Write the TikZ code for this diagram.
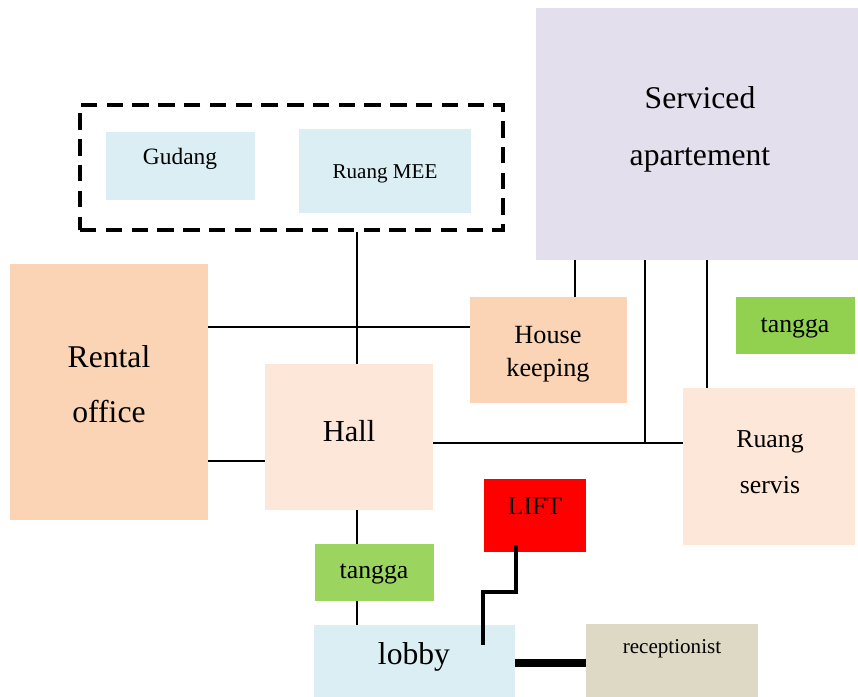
\documentclass[tikz,border=0pt]{standalone}
\usepackage{fontspec}
\setmainfont{Liberation Serif}
\definecolor{lavender}{HTML}{E4DFEC}
\definecolor{paleblue}{HTML}{DAEEF3}
\definecolor{peach}{HTML}{FAD4B4}
\definecolor{lightpeach}{HTML}{FCE7D8}
\definecolor{stairgreen}{HTML}{92D050}
\definecolor{tan}{HTML}{DDD9C4}
\begin{document}
\begin{tikzpicture}[x=0.03cm,y=-0.03cm,
	room/.style 2 args={rectangle,inner sep=0pt,minimum width=#1*0.03cm,minimum height=#2*0.03cm},
	label/.style={inner sep=0pt,align=center},
	link/.style={line width=1.4pt}]
	\useasboundingbox (0,0) rectangle (858,697);
	% rooms
	\node[room={322}{252},fill=lavender] (apt) at (697,134) {};
	\node[room={423}{125},draw,line width=3pt,dash pattern=on 14pt off 8pt] (group) at (291.5,167.5) {};
	\node[room={149}{68},fill=paleblue] (gudang) at (180.5,166) {};
	\node[room={172}{84},fill=paleblue] (mee) at (385,171) {};
	\node[room={198}{256},fill=peach] (rental) at (109,392) {};
	\node[room={157}{106},fill=peach] (house) at (548.5,350) {};
	\node[room={119}{57},fill=stairgreen] (stairR) at (795.5,325.5) {};
	\node[room={168}{146},fill=lightpeach] (hall) at (349,437) {};
	\node[room={172}{157},fill=lightpeach] (servis) at (769,466.5) {};
	\node[room={102}{73},fill=red] (lift) at (535,515.5) {};
	\node[room={119}{57},fill=stairgreen!92!white] (stairB) at (374.5,572.5) {};
	\node[room={201}{72},fill=paleblue] (lobby) at (414.5,661) {};
	\node[room={172}{73},fill=tan] (recep) at (672,660.5) {};
	% names
	\node[label,font=\fontsize{27}{48.6}\selectfont] (aptT) at (700,129) {Serviced\\apartement};
	\node[label,font=\fontsize{20}{24}\selectfont] (gudangT) at (180,159) {Gudang};
	\node[label,font=\fontsize{18}{22}\selectfont] (meeT) at (385,174) {Ruang MEE};
	\node[label,font=\fontsize{27}{47}\selectfont] (rentalT) at (109,384) {Rental\\office};
	\node[label,font=\fontsize{22.4}{28}\selectfont] (houseT) at (548,354) {House\\keeping};
	\node[label,font=\fontsize{22}{26}\selectfont] (stairRT) at (795,328) {tangga};
	\node[label,font=\fontsize{26}{30}\selectfont] (hallT) at (349,431) {Hall};
	\node[label,font=\fontsize{22}{39}\selectfont] (servisT) at (770,462) {Ruang\\servis};
	\node[label,font=\fontsize{22}{26}\selectfont] (liftT) at (535,506) {LIFT};
	\node[label,font=\fontsize{22}{26}\selectfont] (stairBT) at (374,574) {tangga};
	\node[label,font=\fontsize{27}{32}\selectfont] (lobbyT) at (414,657) {lobby};
	\node[label,font=\fontsize{18}{22}\selectfont] (recepT) at (672,649) {receptionist};
	% links
	\coordinate (joint) at (645,443);
	\coordinate (liftfoot) at (516,545);
	\draw[link] (group.south -| 357,0) -- (hall.north -| 357,0);
	\draw[link] (rental.east |- 0,327) -- (house.west |- 0,327);
	\draw[link] (rental.east |- 0,461) -- (hall.west |- 0,461);
	\draw[link] (hall.east |- 0,443) -- (servis.west |- 0,443);
	\draw[link] (apt.south -| 575,0) -- (house.north -| 575,0);
	\draw[link] (apt.south -| joint) -- (joint);
	\draw[link] (apt.south -| 707,0) -- (servis.north -| 707,0);
	\draw[link] (hall.south -| 357,0) -- (stairB.north -| 357,0);
	\draw[link] (stairB.south -| 357,0) -- (lobby.north -| 357,0);
	\draw[line width=3pt] (liftfoot) |- (483,592) -- (483,645);
	\draw[line width=6pt] (lobby.east |- 0,663) -- (recep.west |- 0,663);
\end{tikzpicture}
\end{document}
